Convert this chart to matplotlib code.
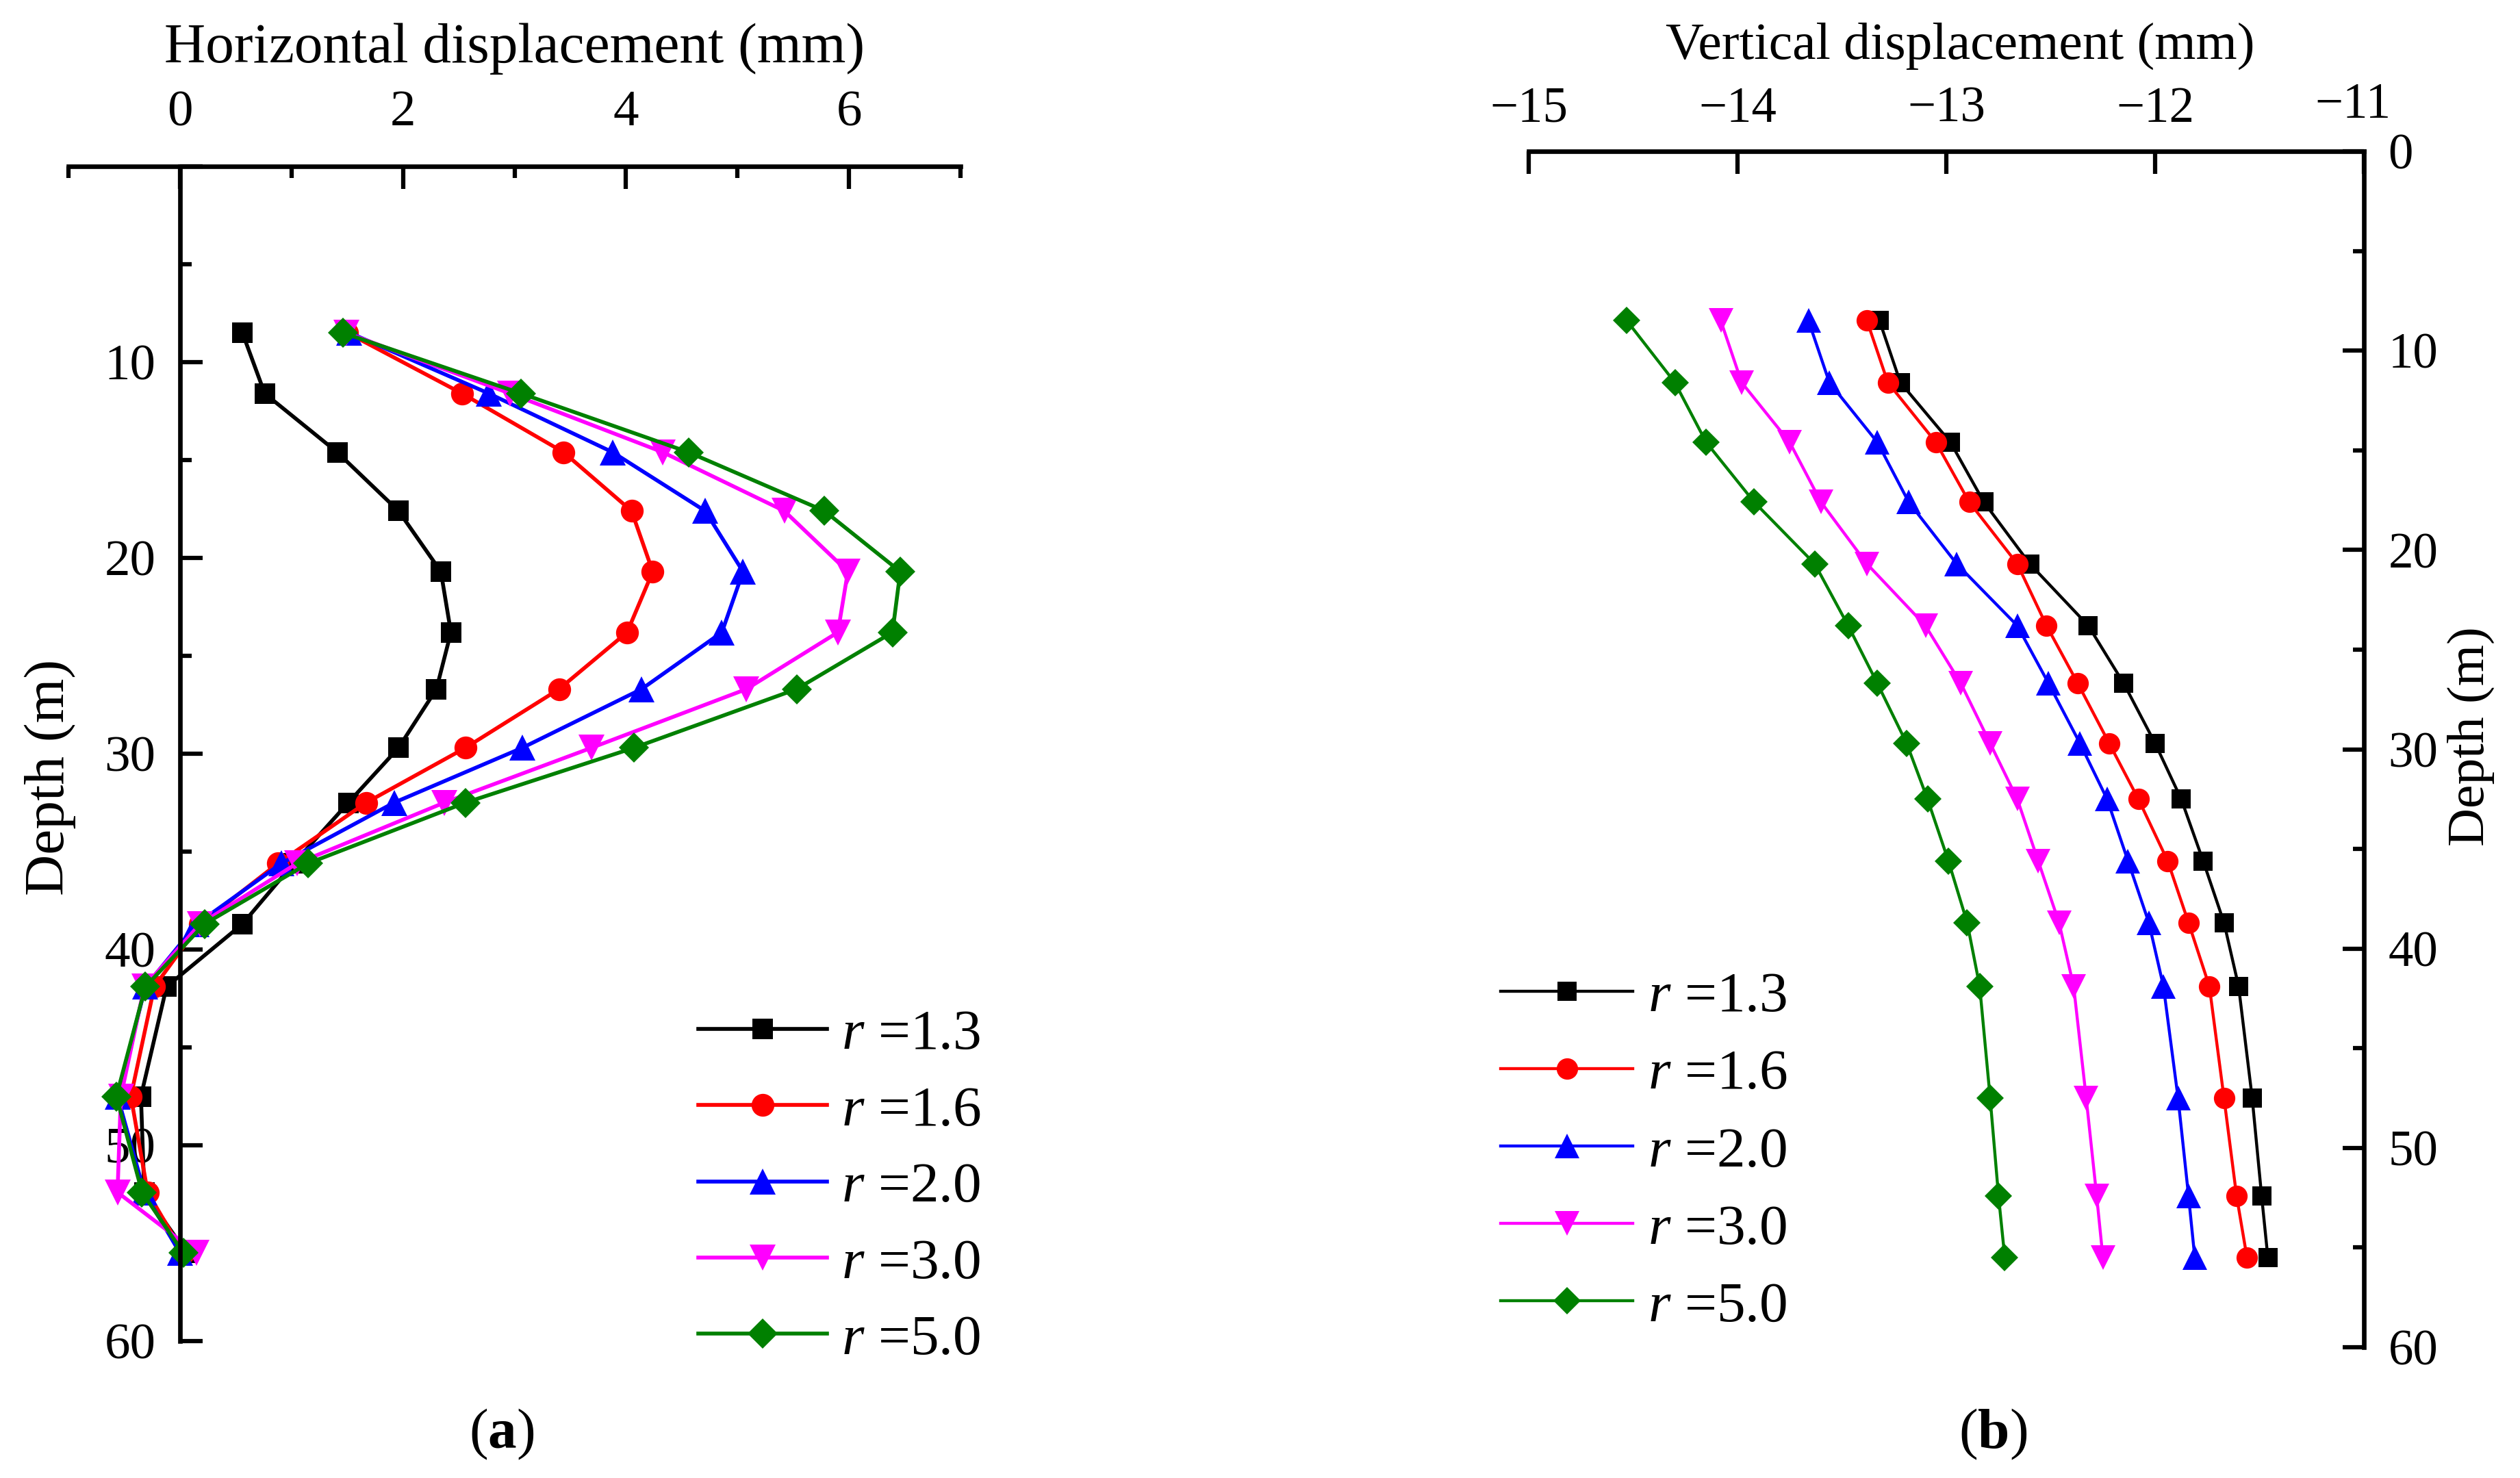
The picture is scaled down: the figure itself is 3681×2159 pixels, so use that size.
import matplotlib
matplotlib.use('Agg')
import matplotlib.pyplot as plt
from matplotlib.ticker import MultipleLocator, FuncFormatter

plt.rcParams['font.family'] = ['Liberation Serif', 'DejaVu Serif']
plt.rcParams['mathtext.fontset'] = 'custom'
plt.rcParams['mathtext.rm'] = 'Liberation Serif'
plt.rcParams['mathtext.it'] = 'Liberation Serif:italic'
plt.rcParams['mathtext.bf'] = 'Liberation Serif:bold'

# ---------------- data ----------------
depth = [8.5, 11.6, 14.6, 17.6, 20.7, 23.8, 26.7, 29.7, 32.5, 35.6, 38.7, 41.9, 47.5, 52.4, 55.5]
r_labels = ['1.3', '1.6', '2.0', '3.0', '5.0']

# Horizontal displacement (mm)
h_r13 = [0.56, 0.76, 1.41, 1.96, 2.34, 2.43, 2.30, 1.96, 1.51, 1.02, 0.56, -0.12, -0.35, -0.32, 0.06]
h_r16 = [1.50, 2.53, 3.44, 4.05, 4.24, 4.01, 3.40, 2.56, 1.67, 0.88, 0.18, -0.23, -0.44, -0.29, 0.03]
h_r20 = [1.52, 2.77, 3.88, 4.71, 5.05, 4.86, 4.14, 3.07, 1.92, 0.91, 0.15, -0.31, -0.56, -0.32, 0.00]
h_r30 = [1.49, 2.96, 4.33, 5.42, 5.99, 5.90, 5.08, 3.69, 2.37, 1.05, 0.18, -0.32, -0.53, -0.56, 0.15]
h_r50 = [1.46, 3.06, 4.56, 5.78, 6.46, 6.39, 5.53, 4.07, 2.56, 1.15, 0.22, -0.31, -0.57, -0.34, 0.03]

# Vertical displacement (mm)
v_r13 = [-13.32, -13.22, -12.98, -12.82, -12.60, -12.32, -12.15, -12.00, -11.875, -11.77, -11.67, -11.60, -11.535, -11.49, -11.46]
v_r16 = [-13.38, -13.28, -13.05, -12.89, -12.66, -12.52, -12.37, -12.22, -12.08, -11.94, -11.84, -11.74, -11.67, -11.61, -11.56]
v_r20 = [-13.66, -13.56, -13.33, -13.18, -12.95, -12.66, -12.51, -12.36, -12.23, -12.13, -12.03, -11.96, -11.89, -11.84, -11.81]
v_r30 = [-14.08, -13.98, -13.75, -13.60, -13.38, -13.10, -12.93, -12.79, -12.66, -12.56, -12.46, -12.39, -12.33, -12.28, -12.25]
v_r50 = [-14.53, -14.30, -14.15, -13.92, -13.63, -13.47, -13.33, -13.19, -13.09, -12.99, -12.90, -12.84, -12.79, -12.75, -12.72]

h_series = [h_r13, h_r16, h_r20, h_r30, h_r50]
v_series = [v_r13, v_r16, v_r20, v_r30, v_r50]

colors = ['#000000', '#FF0000', '#0000FF', '#FF00FF', '#008000']
markers = ['s', 'o', '^', 'v', 'D']
msizes_a = [7.2, 8.0, 9.2, 9.2, 7.4]
msizes_b = [6.8, 7.5, 8.8, 8.8, 6.9]

W, H = 3681, 2159
fig = plt.figure(figsize=(W / 300, H / 300), dpi=300)

# ---------------- panel (a) ----------------
axa = fig.add_axes([100 / W, 1 - 1959 / H, (1403 - 100) / W, (1959 - 243) / H])
for vals, c, m, ms, lab in zip(h_series, colors, markers, msizes_a, r_labels):
    axa.plot(vals, depth, color=c, marker=m, markersize=ms, lw=1.35,
             markeredgewidth=0, label=r'$r$ =' + lab, clip_on=False)
axa.set_xlim(-1, 7)
axa.set_ylim(60, 0)
axa.spines['bottom'].set_visible(False)
axa.spines['right'].set_visible(False)
axa.spines['left'].set_position(('data', 0))
for s in ('top', 'left'):
    axa.spines[s].set_linewidth(1.6)
axa.xaxis.tick_top()
axa.xaxis.set_label_position('top')
axa.xaxis.set_major_locator(MultipleLocator(2))
axa.xaxis.set_minor_locator(MultipleLocator(1))
axa.yaxis.set_major_locator(MultipleLocator(10))
axa.yaxis.set_minor_locator(MultipleLocator(5))
axa.yaxis.set_major_formatter(FuncFormatter(lambda v, p: '' if abs(v) < 1e-9 else f'{v:g}'))
axa.tick_params(axis='x', which='major', direction='in', length=8, width=1.5, labelsize=18, pad=10.5)
axa.tick_params(axis='x', which='minor', direction='in', length=4, width=1.5)
axa.tick_params(axis='y', which='major', direction='in', length=8, width=1.5, labelsize=18, pad=8.5)
axa.tick_params(axis='y', which='minor', direction='in', length=4, width=1.5)
axa.set_xlabel('Horizontal displacement (mm)', fontsize=20)
axa.xaxis.set_label_coords(0.5, 1.0886)
axa.set_ylabel('Depth (m)', fontsize=20, va='center', ha='center')
axa.yaxis.set_label_coords(-0.0206, 0.48)
axa.legend(loc='upper left', bbox_to_anchor=(1020 / W, 1 - 1474 / H),
           bbox_transform=fig.transFigure, frameon=False, borderpad=0,
           borderaxespad=0, handlelength=2.26, handletextpad=0.25,
           labelspacing=0.42, fontsize=20)

# ---------------- panel (b) ----------------
axb = fig.add_axes([2233 / W, 1 - 1968 / H, (3453 - 2233) / W, (1968 - 221) / H])
for vals, c, m, ms, lab in zip(v_series, colors, markers, msizes_b, r_labels):
    axb.plot(vals, depth, color=c, marker=m, markersize=ms, lw=1.05,
             markeredgewidth=0, label=r'$r$ =' + lab, clip_on=False)
axb.set_xlim(-15, -11)
axb.set_ylim(60, 0)
axb.spines['bottom'].set_visible(False)
axb.spines['left'].set_visible(False)
for s in ('top', 'right'):
    axb.spines[s].set_linewidth(1.6)
axb.xaxis.tick_top()
axb.xaxis.set_label_position('top')
axb.yaxis.tick_right()
axb.yaxis.set_label_position('right')
axb.xaxis.set_major_locator(MultipleLocator(1))
axb.xaxis.set_major_formatter(FuncFormatter(lambda v, p: '' if abs(v + 11) < 1e-9 else f'{v:g}'.replace('-', '\u2212')))
axb.yaxis.set_major_locator(MultipleLocator(10))
axb.yaxis.set_minor_locator(MultipleLocator(5))
axb.tick_params(axis='x', which='major', direction='in', length=8, width=1.5, labelsize=17.5, pad=6.5)
axb.tick_params(axis='y', which='major', direction='in', length=7.5, width=1.5, labelsize=17.5, pad=8.5)
axb.tick_params(axis='y', which='minor', direction='in', length=3.8, width=1.5)
# the last top tick label sits slightly up-left in the reference
axb.annotate('\u221211', xy=(1.0, 1.0), xycoords='axes fraction',
             xytext=(-3.8, 8.0), textcoords='offset points',
             ha='center', va='bottom', fontsize=17.5)
axb.set_xlabel('Vertical displacement (mm)', fontsize=18.6)
axb.xaxis.set_label_coords(0.517, 1.0773)
axb.set_ylabel('Depth (m)', fontsize=18.6, va='center', ha='center')
axb.yaxis.set_label_coords(1.128, 0.511)
axb.legend(loc='upper left', bbox_to_anchor=(2192 / W, 1 - 1419 / H),
           bbox_transform=fig.transFigure, frameon=False, borderpad=0,
           borderaxespad=0, handlelength=2.32, handletextpad=0.26,
           labelspacing=0.44, fontsize=20)

# ---------------- panel labels ----------------
fig.text(733 / W, 1 - 2095 / H, r'($\mathbf{a}$)', fontsize=20, ha='center', va='center')
fig.text(2911 / W, 1 - 2095 / H, r'($\mathbf{b}$)', fontsize=20, ha='center', va='center')

fig.savefig('out.png', dpi=300)
